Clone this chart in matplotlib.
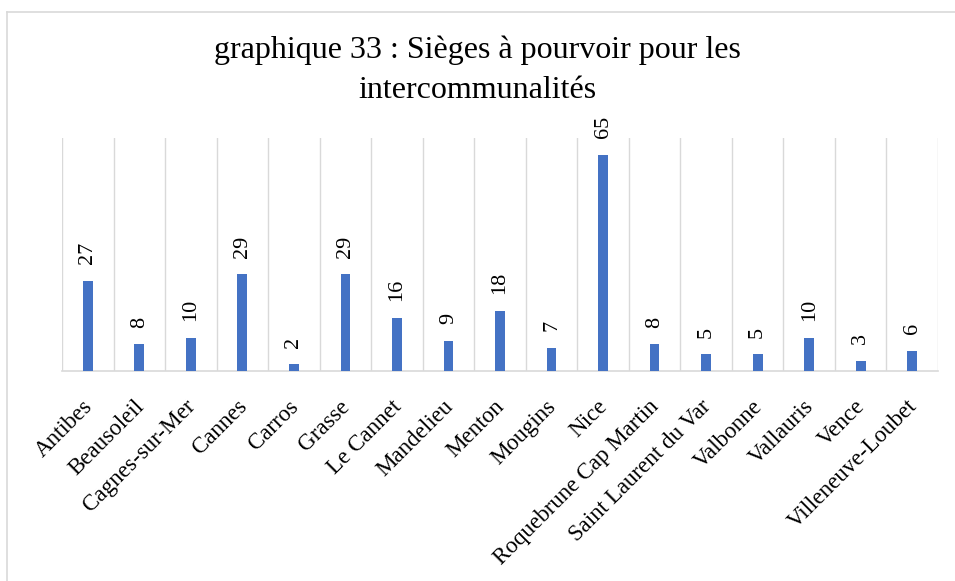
import matplotlib
matplotlib.use("Agg")
import matplotlib.pyplot as plt
import matplotlib.transforms as mtransforms
from matplotlib.lines import Line2D

communes = ["Antibes", "Beausoleil", "Cagnes-sur-Mer", "Cannes", "Carros",
            "Grasse", "Le Cannet", "Mandelieu", "Menton", "Mougins", "Nice",
            "Roquebrune Cap Martin", "Saint Laurent du Var", "Valbonne",
            "Vallauris", "Vence", "Villeneuve-Loubet"]
sieges = [27, 8, 10, 29, 2, 29, 16, 9, 18, 7, 65, 8, 5, 5, 10, 3, 6]

BLUE = "#4472C4"
GRID = "#d9d9d9"

plt.rcParams["font.family"] = ["Liberation Serif", "DejaVu Serif"]

fig = plt.figure(figsize=(9.55, 5.81), dpi=100)
W, H = 955, 581
ax = fig.add_axes([62 / W, 1 - 371 / H, (938 - 62) / W, (371 - 138) / H])

x = list(range(len(communes)))
ax.bar(x, sieges, width=0.19, color=BLUE, zorder=3)

ax.set_xlim(-0.5, len(communes) - 0.5)
ax.set_ylim(0, 70)

# vertical gridlines at category boundaries
for b in range(len(communes) + 1):
    ax.axvline(b - 0.5, color=GRID, linewidth=1.0, zorder=1)

for s in ("top", "left", "right"):
    ax.spines[s].set_visible(False)
ax.spines["bottom"].set_color(GRID)
ax.spines["bottom"].set_linewidth(1.2)
ax.set_yticks([])
ax.set_xticks(x)
ax.set_xticklabels(communes, rotation=45, ha="right", rotation_mode="anchor",
                   fontsize=16.6)
ax.tick_params(axis="x", length=0, pad=18)
shift = mtransforms.ScaledTranslation(-6 / 100, 0, fig.dpi_scale_trans)
for lab in ax.get_xticklabels():
    lab.set_transform(lab.get_transform() + shift)

for xi, v in zip(x, sieges):
    ax.annotate(str(v), (xi, v), xytext=(0, 12), textcoords="offset points",
                rotation=90, ha="center", va="bottom", fontsize=16)

fig.text(0.5, 1 - 70.5 / H, "graphique 33 : Sièges à pourvoir pour les\nintercommunalités",
         ha="center", va="center", fontsize=23, linespacing=1.5)

# chart border (cropped at right and bottom)
fig.add_artist(Line2D([7 / W, 1], [1 - 12 / H, 1 - 12 / H], color=GRID,
                      linewidth=1.2, transform=fig.transFigure))
fig.add_artist(Line2D([7 / W, 7 / W], [0, 1 - 12 / H], color=GRID,
                      linewidth=1.2, transform=fig.transFigure))

fig.savefig("out.png", dpi=100)
